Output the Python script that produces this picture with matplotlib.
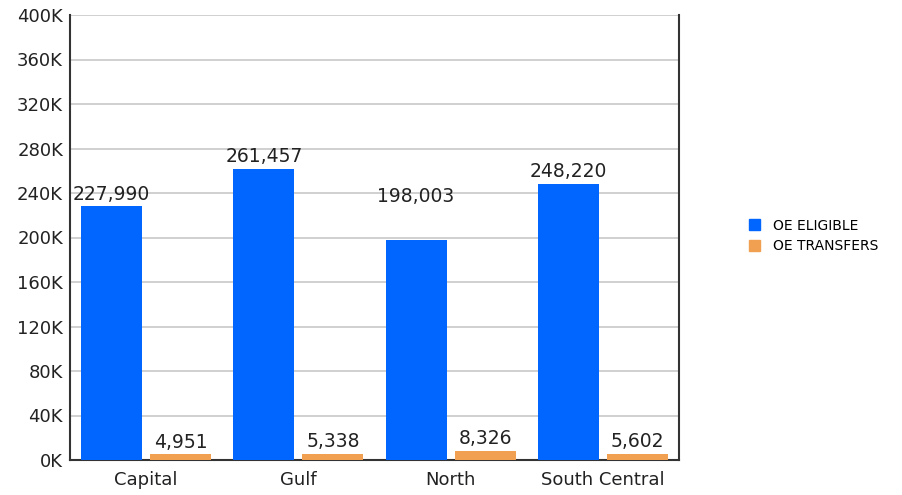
import matplotlib
matplotlib.use("Agg")
import matplotlib.pyplot as plt
import numpy as np
from matplotlib.patches import Patch

categories = ["Capital", "Gulf", "North", "South Central"]
eligible = [227990, 261457, 198003, 248220]
transfers = [4951, 5338, 8326, 5602]
yticks = [0, 40000, 80000, 120000, 160000, 200000, 240000, 280000, 320000, 360000, 400000]
ytick_labels = ["0K", "40K", "80K", "120K", "160K", "200K", "240K", "280K", "320K", "360K", "400K"]
series_names = ["OE ELIGIBLE", "OE TRANSFERS"]

blue = "#0066FF"
orange = "#F0A050"

plt.rcParams['font.family'] = ['DejaVu Sans']

fig = plt.figure(figsize=(9.02, 4.95), dpi=100)
ax = fig.add_axes([70/902, 35/495, 609/902, 445/495])

x = np.arange(len(categories))
w = 0.40
off = 0.227
ax.bar(x - off, eligible, width=w, color=blue, zorder=3)
ax.bar(x + off, transfers, width=w, color=orange, zorder=3)

ax.set_xlim(-0.5, len(categories) - 0.5)
ax.set_ylim(0, 400000)
ax.set_yticks(yticks)
ax.set_yticklabels(ytick_labels)
ax.set_xticks(x)
ax.set_xticklabels(categories)
ax.grid(axis='y', color='#c8c8c8', linewidth=1.2, zorder=0)
ax.tick_params(axis='both', length=0, labelsize=13, colors='#222222')
ax.tick_params(axis='x', pad=8)
ax.tick_params(axis='y', pad=5)

for s in ['left', 'bottom', 'right']:
    ax.spines[s].set_color('#333333')
    ax.spines[s].set_linewidth(1.5)
ax.spines['top'].set_visible(False)

for i, v in enumerate(eligible):
    ypos = v
    if categories[i] == "North":
        ypos = v + 28000
    ax.annotate(f"{v:,}", (x[i] - off, ypos), xytext=(0, 2), textcoords='offset points',
                ha='center', va='bottom', fontsize=13.5, color='#222222')
for i, v in enumerate(transfers):
    ax.annotate(f"{v:,}", (x[i] + off, v), xytext=(0, 2), textcoords='offset points',
                ha='center', va='bottom', fontsize=13.5, color='#222222')

handles = [Patch(color=blue), Patch(color=orange)]
fig.legend(handles, series_names, loc='center left', bbox_to_anchor=(736/902, 1 - 236/495),
           frameon=False, handlelength=0.85, handleheight=0.85, handletextpad=0.9,
           labelspacing=0.5, prop={'size': 10})

fig.savefig("out.png", dpi=100)
